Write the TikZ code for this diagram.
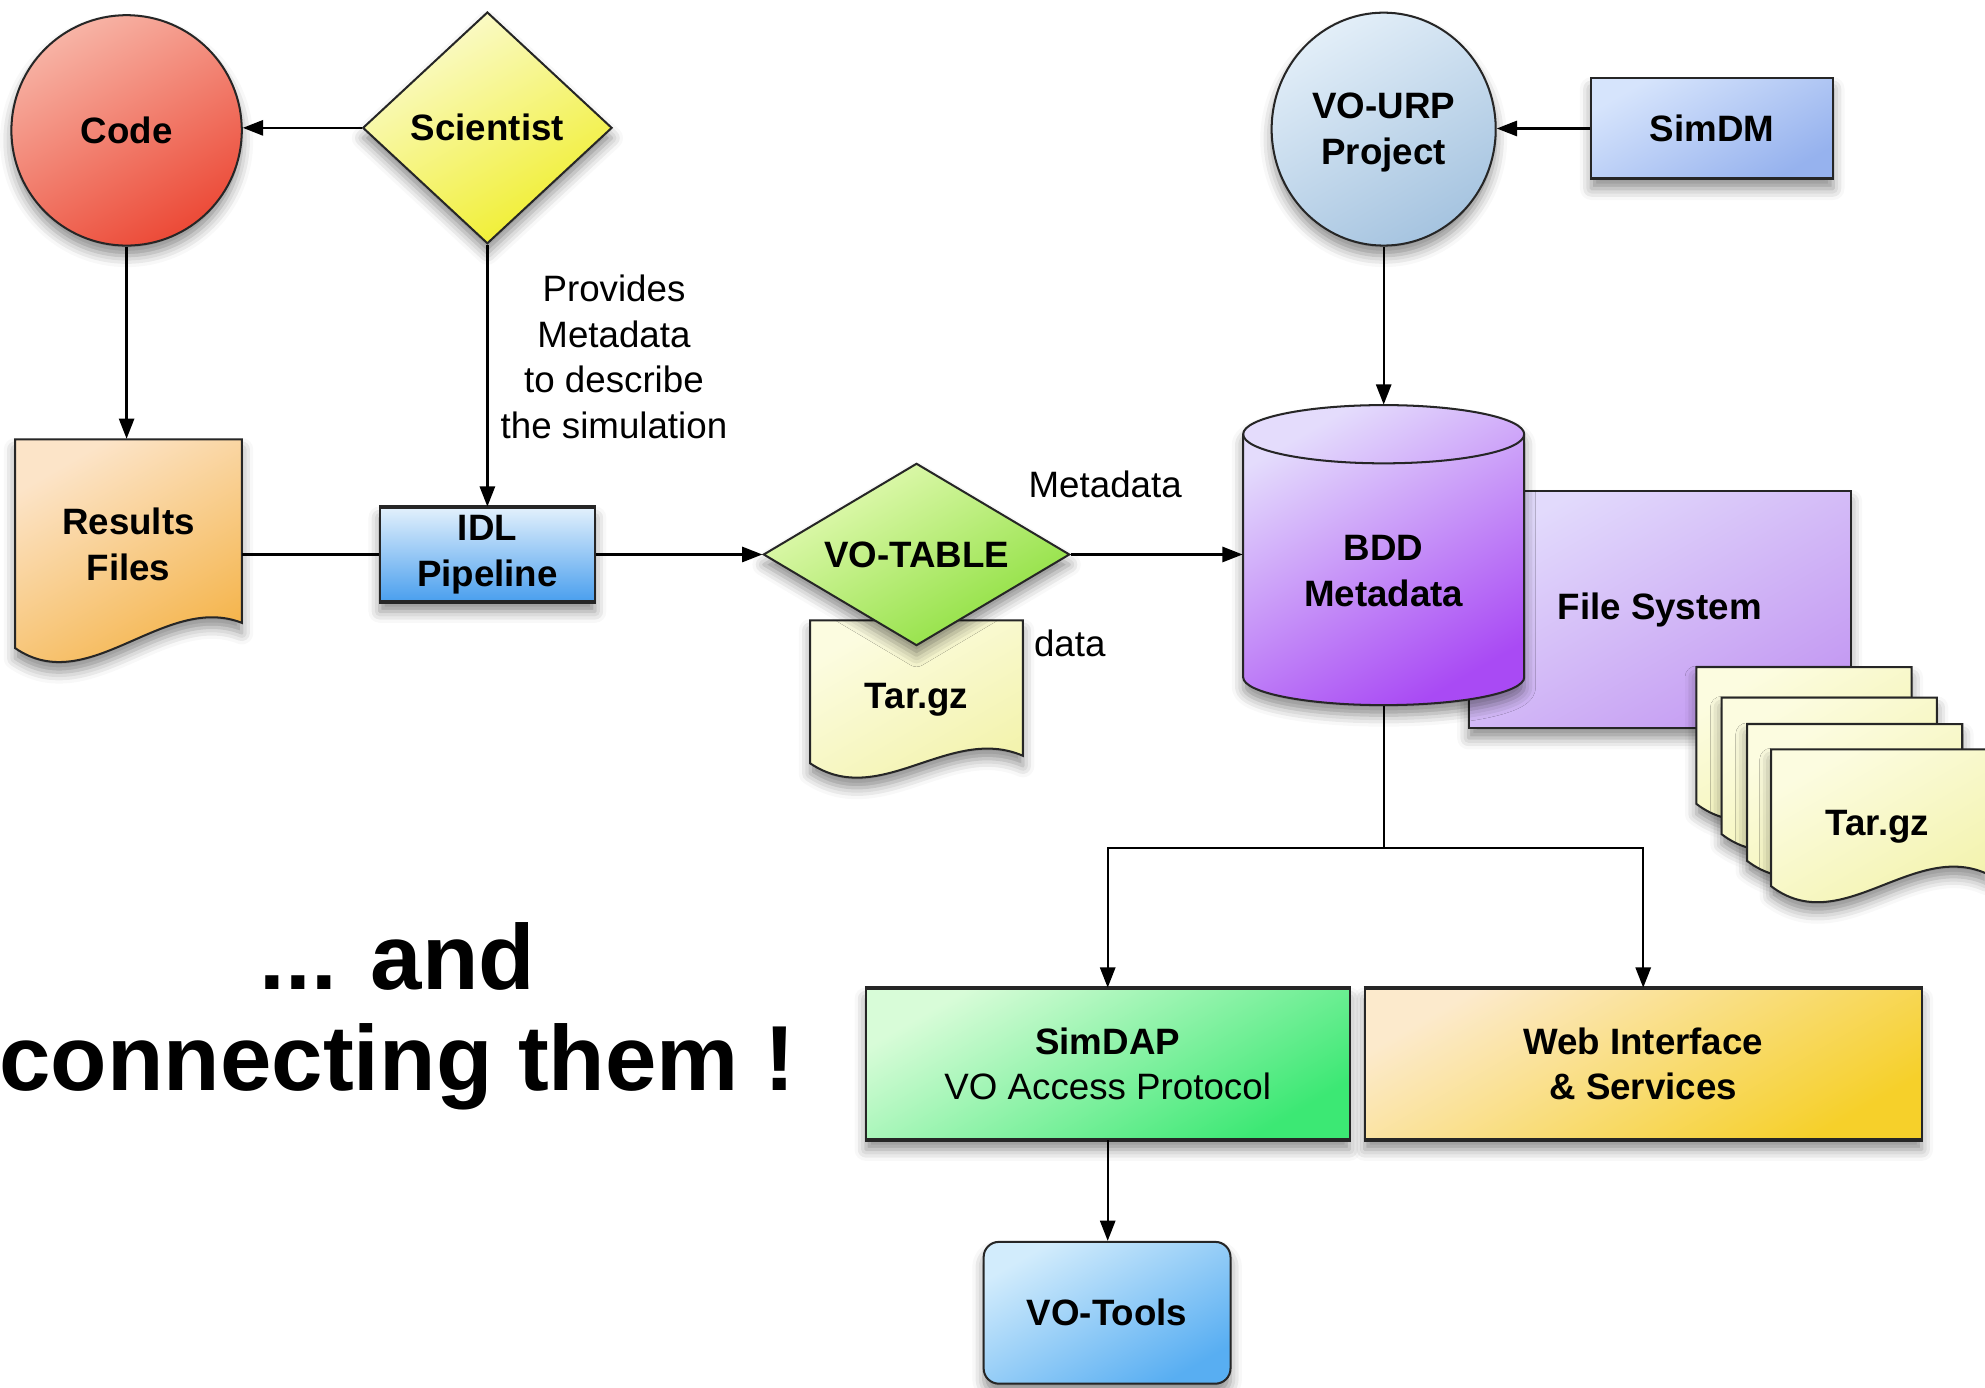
\documentclass[tikz,border=0pt]{standalone}
\usepackage{fontspec}
\setmainfont{Liberation Sans}
\usetikzlibrary{arrows.meta,shapes.geometric,shadows.blur,calc}

\definecolor{codeA}{HTML}{F7B3A5}\definecolor{codeB}{HTML}{EC4A37}
\definecolor{sciA}{HTML}{FBFBD0}\definecolor{sciB}{HTML}{F0EE2C}
\definecolor{resA}{HTML}{FCE4C8}\definecolor{resB}{HTML}{F4B040}
\definecolor{idlA}{HTML}{E2F0FC}\definecolor{idlB}{HTML}{4A9FEE}
\definecolor{tarA}{HTML}{FCFCE0}\definecolor{tarB}{HTML}{F2F2A8}
\definecolor{votA}{HTML}{E6FBB8}\definecolor{votB}{HTML}{8CDF3C}
\definecolor{fsA}{HTML}{E2DAFC}\definecolor{fsB}{HTML}{C49AF2}
\definecolor{bddA}{HTML}{E4DCFC}\definecolor{bddB}{HTML}{A94AF4}
\definecolor{vuA}{HTML}{E2EEF8}\definecolor{vuB}{HTML}{A6C4E0}
\definecolor{sdA}{HTML}{D6E4FC}\definecolor{sdB}{HTML}{96B2EE}
\definecolor{sdpA}{HTML}{D8FCD8}\definecolor{sdpB}{HTML}{3CE874}
\definecolor{webA}{HTML}{FCEACC}\definecolor{webB}{HTML}{F6D02A}
\definecolor{vtA}{HTML}{D2ECFC}\definecolor{vtB}{HTML}{58AEF2}

\begin{document}
\begin{tikzpicture}[x=0.5pt,y=-0.5pt,
  every node/.style={font=\fontsize{14.5}{18}\selectfont},
  lbl/.style={font=\fontsize{14.5}{18}\selectfont\bfseries, align=center},
  conn/.style={draw=black, line width=0.9pt},
  arr/.style={conn, -{Triangle[length=8pt,width=6pt]}},
  box/.style={draw=black!85, line width=0.8pt,
    blur shadow={shadow xshift=0pt, shadow yshift=-4pt,
                 shadow blur radius=4.5pt, shadow opacity=45}},
  grad/.style 2 args={top color=#1, bottom color=#2, shading angle=30},
  edge/.style={line width=1.6pt, black!85},
]
\useasboundingbox (0,0) rectangle (1568,1096);

% ---------- left part: scientist, code, results ----------
\node[box, grad={codeA}{codeB}, circle, minimum size=91pt, inner sep=0pt, lbl]
  (code) at (100,103) {Code};
\node[box, grad={sciA}{sciB}, diamond, minimum width=98.5pt, minimum height=91.5pt,
  inner sep=0pt, lbl] (sci) at (385,101) {Scientist};

\path[box, grad={resA}{resB}] (12,347) -- (191,347) -- (191,492)
  .. controls (130,468) and (70,552) .. (12,512) -- cycle;
\node[lbl, minimum width=89.5pt, minimum height=83pt, inner sep=0pt]
  (res) at (101.5,430) {Results\\Files};

\node[box, grad={idlA}{idlB}, shading angle=0, rectangle, minimum width=85pt,
  minimum height=37pt, inner sep=0pt, lbl] (idl) at (385,438) {IDL\\Pipeline};
\draw[edge] (idl.north west) -- (idl.north east) (idl.south west) -- (idl.south east);

\draw[arr] (sci.west) -- (sci.west -| code.east);
\draw[arr] (code.south) -- (code.south |- res.north);
\draw[arr] (sci.south) -- (idl.north);
\draw[conn] (res.east |- idl.west) -- (idl.west);

\node[align=center] (prov) at (485,282)
  {Provides\\Metadata\\to describe\\the simulation};

% ---------- VO-TABLE with its archive ----------
\path[box, grad={tarA}{tarB}] (640,490) -- (808,490) -- (808,597)
  .. controls (750,572) and (695,640) .. (640,603) -- cycle;
\node[lbl] (tar) at (724,553) {Tar.gz};

\node[box, grad={votA}{votB}, diamond, aspect=1.68, minimum width=121pt,
  minimum height=72pt, inner sep=0pt, lbl] (vot) at (724,438) {VO-TABLE};
\draw[arr] (idl.east) -- (vot.west);

\node (lmeta) at (873,383) {Metadata};
\node (ldata) at (845,508) {data};

% ---------- file system and metadata database ----------
\node[box, grad={fsA}{fsB}, rectangle, minimum width=151pt, minimum height=93.5pt,
  inner sep=0pt, lbl] (fs) at (1311,481.5) {File System};

\path[box, grad={bddA}{bddB}] (982,343) -- (982,535)
  arc[start angle=180, end angle=0, x radius=111, y radius=22] -- (1204,343)
  arc[start angle=0, end angle=-180, x radius=111, y radius=23] -- cycle;
\draw[draw=black!85, line width=0.8pt] (982,343)
  arc[start angle=180, end angle=0, x radius=111, y radius=23];
\node[minimum width=111pt, minimum height=118.5pt, inner sep=0pt]
  (bdd) at (1093,438.5) {};
\node[lbl] (bddlbl) at (1093,451) {BDD\\Metadata};

\draw[arr] (vot.east) -- (vot.east -| bdd.west);

% stacked archives
\foreach \dx/\dy in {0/0, 20/24, 40/45, 59/65} {
  \begin{scope}[shift={(1340+\dx,527+\dy)}]
    \path[box, grad={tarA}{tarB}] (0,0) -- (170,0) -- (170,98)
      .. controls (112,72) and (55,150) .. (0,108) -- cycle;
  \end{scope}
}
\node[lbl] (tars) at (1483,653) {Tar.gz};

% ---------- project and data model ----------
\node[box, grad={vuA}{vuB}, ellipse, minimum width=88.5pt, minimum height=92pt,
  inner sep=0pt, lbl] (vourp) at (1093,102) {\strut VO-URP\\Project};
\node[box, grad={sdA}{sdB}, rectangle, minimum width=95.5pt, minimum height=39.5pt,
  inner sep=0pt, lbl] (simdm) at (1352.5,101.5) {SimDM};
\draw[arr] (simdm.west) -- (simdm.west -| vourp.east);
\draw[arr] (vourp.south) -- (bdd.north);

% ---------- access layer ----------
\node[box, grad={sdpA}{sdpB}, rectangle, minimum width=191pt, minimum height=59.5pt,
  inner sep=0pt, align=center] (simdap) at (875,840.5)
  {\textbf{SimDAP}\\VO Access Protocol};
\draw[edge] (simdap.north west) -- (simdap.north east)
  (simdap.south west) -- (simdap.south east);
\node[box, grad={webA}{webB}, rectangle, minimum width=220pt, minimum height=59.5pt,
  inner sep=0pt, lbl] (web) at (1298,840.5) {Web Interface\\\& Services};
\draw[edge] (web.north west) -- (web.north east)
  (web.south west) -- (web.south east);
\node[box, grad={vtA}{vtB}, rectangle, rounded corners=6pt, minimum width=97.5pt,
  minimum height=56pt, inner sep=0pt, lbl] (votools) at (874.5,1037) {VO-Tools};

\coordinate (split) at (1093,670);
\draw[conn] (bdd.south) -- (split);
\draw[arr] (split) -| (simdap.north);
\draw[arr] (split) -| (web.north);
\draw[arr] (simdap.south) -- (simdap.south |- votools.north);

% ---------- caption ----------
\node[align=center, font=\fontsize{36.5}{40}\selectfont\bfseries]
  (caption) at (314,803) {... and\\connecting them !};
\end{tikzpicture}
\end{document}
